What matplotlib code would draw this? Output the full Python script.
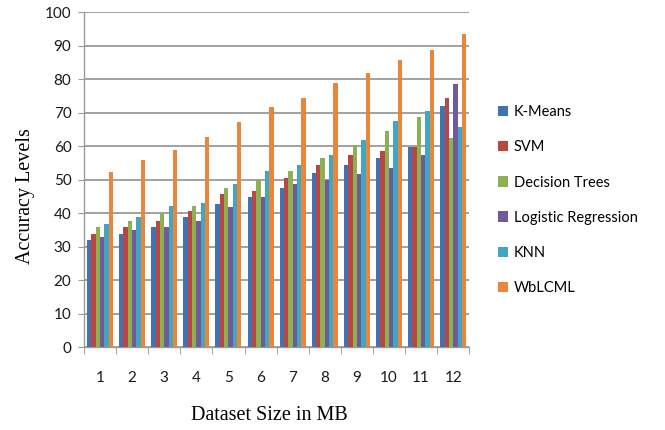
import numpy as np
import matplotlib
matplotlib.use("Agg")
import matplotlib.pyplot as plt

# Accuracy per dataset size (MB) for each method
sizes = [1, 2, 3, 4, 5, 6, 7, 8, 9, 10, 11, 12]
kmeans = [32.0, 33.8, 35.9, 39.0, 42.7, 44.9, 47.5, 51.9, 54.4, 56.6, 59.8, 72.0]
svm = [33.7, 35.9, 37.7, 40.7, 45.7, 46.6, 50.5, 54.5, 57.5, 58.7, 59.8, 74.3]
dtree = [35.9, 37.7, 40.1, 42.1, 47.5, 49.8, 52.7, 56.5, 60.5, 64.5, 68.8, 62.6]
logreg = [32.8, 35.0, 35.9, 37.7, 41.8, 44.9, 48.7, 49.9, 51.8, 53.6, 57.5, 78.7]
knn = [36.9, 39.0, 42.1, 43.0, 48.8, 52.7, 54.5, 57.5, 61.8, 67.5, 70.6, 65.7]
wblcml = [52.2, 56.0, 58.8, 62.7, 67.4, 71.8, 74.3, 78.8, 81.8, 85.7, 88.8, 93.6]

series = [
    ("K-Means", kmeans, "#4273B0"),
    ("SVM", svm, "#B84643"),
    ("Decision Trees", dtree, "#8DB050"),
    ("Logistic Regression", logreg, "#715A9A"),
    ("KNN", knn, "#42A5C2"),
    ("WbLCML", wblcml, "#E8873C"),
]

fig = plt.figure(figsize=(6.65, 4.30), dpi=100)
ax = fig.add_axes([0.1263, 0.1923, 0.7057 - 0.1263, 0.9714 - 0.1923])

x = np.arange(1, len(sizes) + 1)
bw = 0.135
offsets = (np.arange(len(series)) - (len(series) - 1) / 2) * bw
for (name, vals, col), off in zip(series, offsets):
    ax.bar(x + off, vals, width=bw, color=col, label=name, zorder=3, linewidth=0)

ax.set_xlim(0.5, len(sizes) + 0.5)
ax.set_ylim(0, 100)
ax.set_yticks(np.arange(0, 101, 10))
ax.set_xticks(x)
ax.set_xticklabels([str(s) for s in sizes])
ax.set_xticks(np.arange(0.5, len(sizes) + 1, 1.0), minor=True)

gray = "#9A9A9A"
ax.grid(axis="y", color=gray, linewidth=1.3, zorder=0)
for side in ("top", "right"):
    ax.spines[side].set_visible(False)
for side in ("left", "bottom"):
    ax.spines[side].set_color(gray)
    ax.spines[side].set_linewidth(1.0)

ax.tick_params(axis="y", direction="out", length=4, color=gray, pad=5, labelsize=11, labelcolor="#1a1a1a")
ax.tick_params(axis="x", which="major", length=0, pad=17, labelsize=11, labelcolor="#1a1a1a")
ax.tick_params(axis="x", which="minor", direction="out", length=5, color=gray)
for lbl in ax.get_xticklabels() + ax.get_yticklabels():
    lbl.set_fontfamily("Lato")

ax.set_xlabel("Dataset Size in MB", family="Liberation Serif", fontsize=14.5)
ax.set_ylabel("Accuracy Levels", family="Liberation Serif", fontsize=14.5)
ax.xaxis.set_label_coords(0.48, -0.175)
ax.yaxis.set_label_coords(-0.128, 0.45)

leg = ax.legend(loc="upper left", bbox_to_anchor=(1.06, 0.74), frameon=False,
                prop=dict(family="Lato", size=10.5), handlelength=0.7, handleheight=0.7,
                handletextpad=0.35, labelspacing=1.45, borderaxespad=0)

fig.savefig("out.png", dpi=100)
